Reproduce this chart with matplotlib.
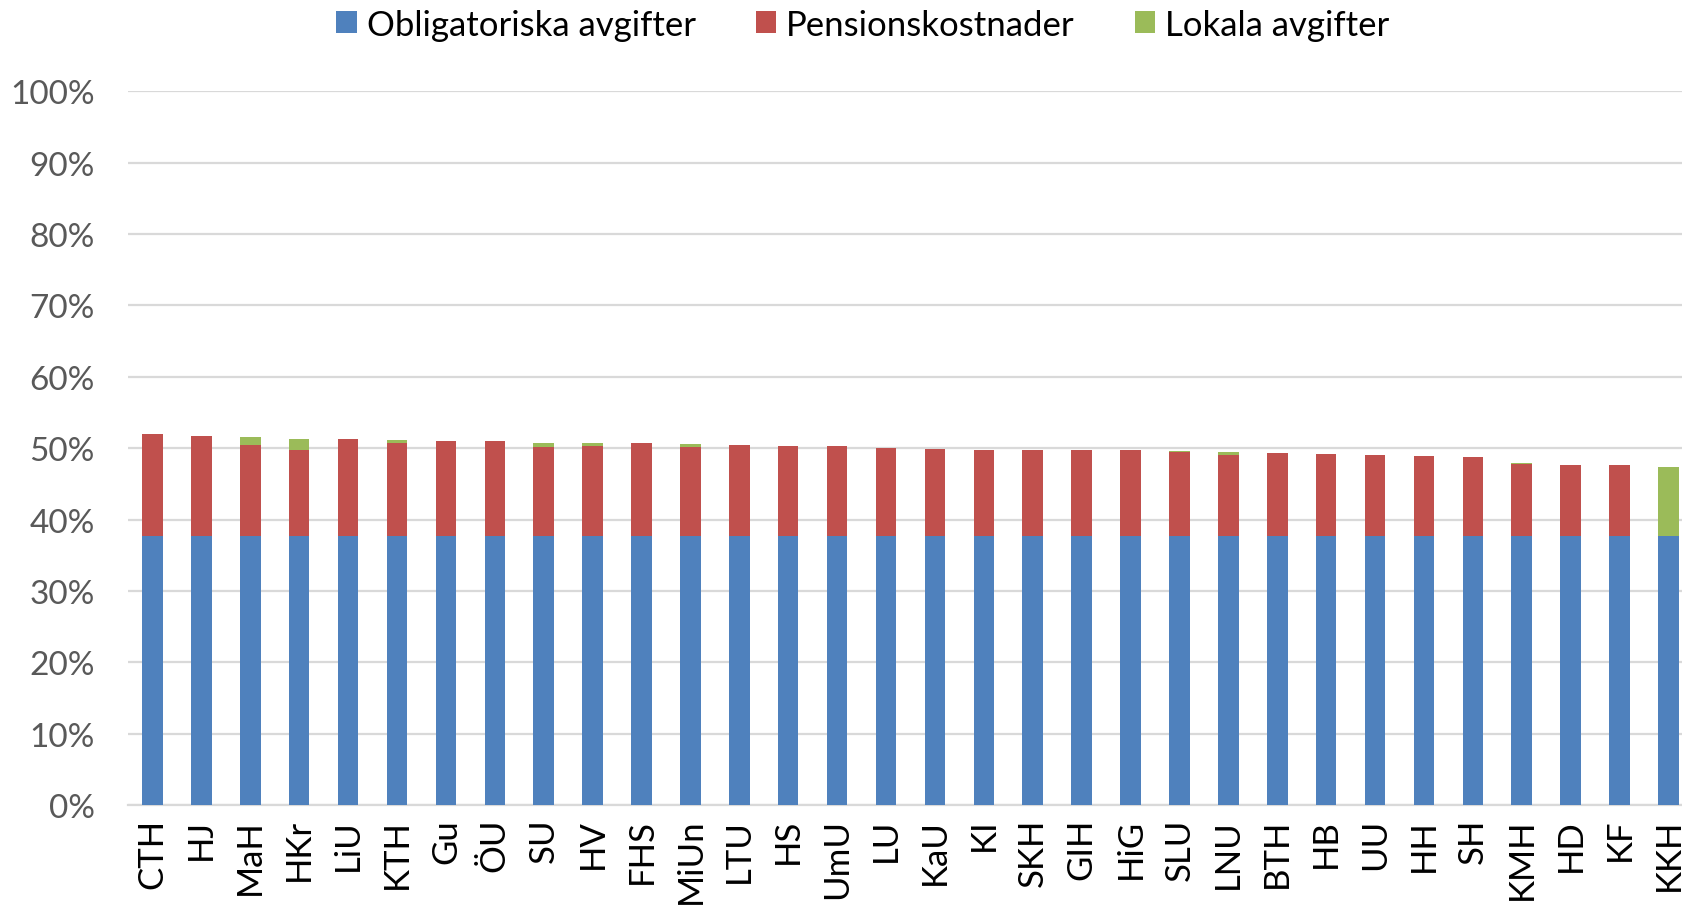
import numpy as np
import matplotlib
matplotlib.use('Agg')
import matplotlib.pyplot as plt
import matplotlib.ticker as ticker
from matplotlib.patches import Patch

plt.rcParams['font.family'] = ['Lato', 'DejaVu Sans']

# Högskolor (kategorier)
kategorier = ['CTH', 'HJ', 'MaH', 'HKr', 'LiU', 'KTH', 'Gu', 'ÖU', 'SU', 'HV',
              'FHS', 'MiUn', 'LTU', 'HS', 'UmU', 'LU', 'KaU', 'KI', 'SKH', 'GIH',
              'HiG', 'SLU', 'LNU', 'BTH', 'HB', 'UU', 'HH', 'SH', 'KMH', 'HD',
              'KF', 'KKH']

# Andelar i procent
obligatoriska = [37.76] * 32
pension = [14.24, 13.92, 12.66, 11.96, 13.50, 13.03, 13.26, 13.22, 12.47, 12.61,
           12.98, 12.44, 12.70, 12.56, 12.52, 12.24, 12.10, 12.05, 11.96, 11.96,
           11.96, 11.77, 11.34, 11.58, 11.44, 11.26, 11.16, 11.02, 10.06, 9.90,
           9.90, 0.0]
lokala = [0, 0, 1.12, 1.54, 0, 0.33, 0, 0, 0.56, 0.42,
          0, 0.45, 0, 0, 0, 0, 0, 0, 0, 0,
          0, 0.05, 0.38, 0, 0, 0, 0, 0, 0.08, 0,
          0, 9.62]

serier = ['Obligatoriska avgifter', 'Pensionskostnader', 'Lokala avgifter']
farger = ['#4F81BD', '#C0504D', '#9BBB59']

blue = np.array(obligatoriska) / 100
red = np.array(pension) / 100
green = np.array(lokala) / 100
x = np.arange(len(kategorier))

fig = plt.figure(figsize=(16.82, 9.12), dpi=100)
ax = fig.add_axes([0.0761, 0.1159, 0.9304, 0.7829])

w = 0.42
ax.bar(x, blue, w, color=farger[0], zorder=3)
ax.bar(x, red, w, bottom=blue, color=farger[1], zorder=3)
ax.bar(x, green, w, bottom=blue + red, color=farger[2], zorder=3)

ax.set_xlim(-0.5, len(kategorier) - 0.5)
ax.set_ylim(0, 1)
ax.yaxis.set_major_locator(ticker.MultipleLocator(0.1))
ax.yaxis.set_major_formatter(ticker.FuncFormatter(lambda v, p: f'{v*100:.0f}%'))
ax.grid(axis='y', color='#D9D9D9', linewidth=1.6, zorder=0)
ax.set_axisbelow(True)

for s in ['top', 'right', 'left']:
    ax.spines[s].set_visible(False)
ax.spines['bottom'].set_color('#D9D9D9')
ax.spines['bottom'].set_linewidth(1.6)

ax.set_xticks(x)
ax.set_xticklabels(kategorier, rotation=90, fontsize=25, color='black')
ax.tick_params(axis='x', length=0, pad=9)
ax.tick_params(axis='y', length=0, pad=24, labelsize=24, labelcolor='#595959')

handles = [Patch(facecolor=c, label=l) for c, l in zip(farger, serier)]
fig.legend(handles=handles, loc='center', bbox_to_anchor=(0.513, 0.972), ncol=3,
           frameon=False, fontsize=25, handlelength=0.58, handleheight=0.58,
           handletextpad=0.3, columnspacing=1.72)

fig.savefig('out.png', dpi=100)
